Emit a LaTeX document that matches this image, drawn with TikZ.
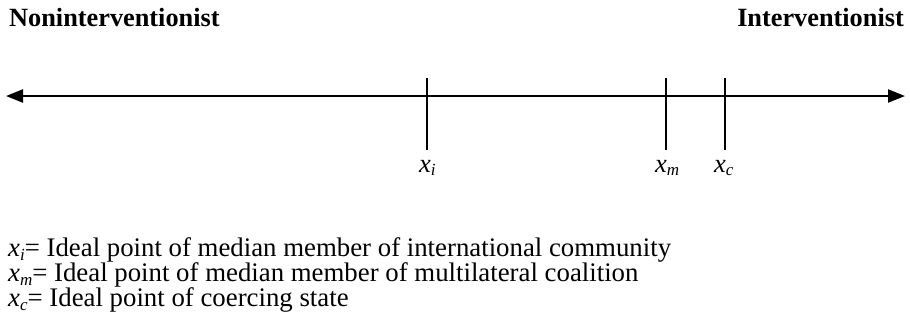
\documentclass[tikz,border=0pt]{standalone}
\usepackage{fontspec}
\setmainfont{Liberation Serif}
\usetikzlibrary{arrows.meta}
\newcommand{\vsub}[2]{{\itshape #1}\raisebox{-0.15em}{\fontsize{17}{17}\selectfont\itshape #2}}
\tikzset{
  axis/.style={line width=2.2pt, {Triangle[length=17pt,width=13pt]}-{Triangle[length=17pt,width=13pt]}},
  tick/.style={line width=2.2pt},
  head/.style={font=\fontsize{26.3}{30}\selectfont\bfseries, inner sep=0pt},
  lab/.style={font=\fontsize{26.5}{30}\selectfont, inner sep=0pt},
  legend/.style={font=\fontsize{26.8}{30}\selectfont, inner sep=0pt, anchor=base west, text height=18pt, text depth=5pt}
}
\begin{document}
\begin{tikzpicture}[x=1pt,y=-1pt]
\useasboundingbox (0,0) rectangle (910,325);
\node[head, anchor=west] (nonint) at (9,18) {Noninterventionist};
\node[head, anchor=east] (int) at (904,18) {Interventionist};
\coordinate (L) at (6,96);
\coordinate (R) at (905,96);
\draw[axis] (L) -- (R);
\coordinate (ti1) at (427,78); \coordinate (ti2) at (427,150);
\coordinate (tm1) at (666,78); \coordinate (tm2) at (666,150);
\coordinate (tc1) at (725,78); \coordinate (tc2) at (725,150);
\draw[tick] (ti1) -- (ti2);
\draw[tick] (tm1) -- (tm2);
\draw[tick] (tc1) -- (tc2);
\node[lab, anchor=base west] (xi) at (419,172) {\vsub{x}{i}};
\node[lab, anchor=base west] (xm) at (655,172) {\vsub{x}{m}};
\node[lab, anchor=base west] (xc) at (714,172) {\vsub{x}{c}};
\node[legend] (l1) at (8,256) {\vsub{x}{i}= Ideal point of median member of international community};
\node[legend] (l2) at (8,281) {\vsub{x}{m}= Ideal point of median member of multilateral coalition};
\node[legend] (l3) at (8,306) {\vsub{x}{c}= Ideal point of coercing state};
\end{tikzpicture}
\end{document}
